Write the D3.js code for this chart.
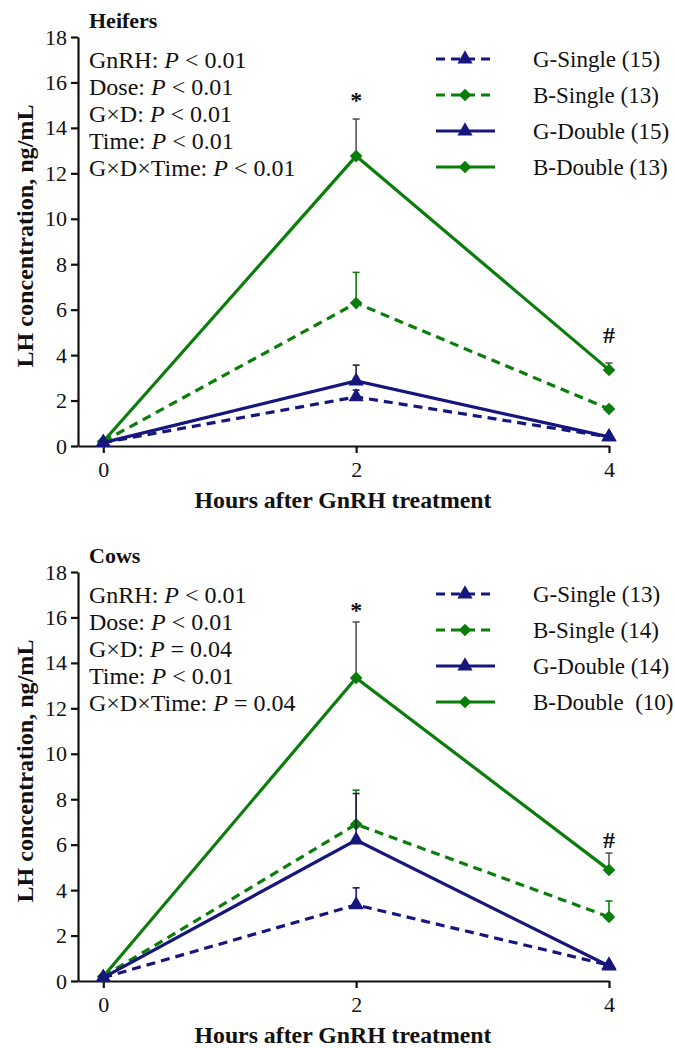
<!DOCTYPE html>
<html>
<head>
<meta charset="utf-8">
<script src="https://cdn.jsdelivr.net/npm/d3@7"></script>
<style>
  body { margin: 0; background: #fff; }
  text { font-family: "Liberation Serif", "Times New Roman", "DejaVu Serif", serif; fill: #111; }
</style>
</head>
<body>
<script>
// ---- data ----
var hours = [0, 2, 4];
var yTicks = [0, 2, 4, 6, 8, 10, 12, 14, 16, 18];
var seriesNames = ["G-Single", "B-Single", "G-Double", "B-Double"];

// Heifers
var heiferN = ["(15)", "(13)", "(15)", "(13)"];
var heiferGSingle = [0.15, 2.16, 0.40];
var heiferGSingleSE = [0.02, 0.30, 0.05];
var heiferBSingle = [0.20, 6.29, 1.63];
var heiferBSingleSE = [0.03, 1.35, 0.12];
var heiferGDouble = [0.15, 2.86, 0.40];
var heiferGDoubleSE = [0.02, 0.70, 0.05];
var heiferBDouble = [0.20, 12.76, 3.35];
var heiferBDoubleSE = [0.03, 1.63, 0.30];
var heiferStats = [["GnRH:", "< 0.01"], ["Dose:", "< 0.01"], ["G\u00d7D:", "< 0.01"],
                   ["Time:", "< 0.01"], ["G\u00d7D\u00d7Time:", "< 0.01"]];
var heiferMarks = [{h: 2, v: 15.45, s: "*"}, {h: 4, v: 4.9, s: "#"}];

// Cows
var cowN = ["(13)", "(14)", "(14)", " (10)"];
var cowGSingle = [0.15, 3.35, 0.70];
var cowGSingleSE = [0.02, 0.75, 0.05];
var cowBSingle = [0.20, 6.90, 2.82];
var cowBSingleSE = [0.03, 1.50, 0.70];
var cowGDouble = [0.15, 6.20, 0.66];
var cowGDoubleSE = [0.02, 2.05, 0.05];
var cowBDouble = [0.20, 13.34, 4.89];
var cowBDoubleSE = [0.03, 2.46, 0.74];
var cowStats = [["GnRH:", "< 0.01"], ["Dose:", "< 0.01"], ["G\u00d7D:", "= 0.04"],
                ["Time:", "< 0.01"], ["G\u00d7D\u00d7Time:", "= 0.04"]];
var cowMarks = [{h: 2, v: 16.55, s: "*"}, {h: 4, v: 6.2, s: "#"}];

var navy = "#16167f", green = "#0b7d0b";
var styles = [
  {color: navy,  dash: "9,6", shape: "tri", err: navy},
  {color: green, dash: "9,6", shape: "dia", err: green},
  {color: navy,  dash: null,  shape: "tri", err: "#222244"},
  {color: green, dash: null,  shape: "dia", err: "#555"}
];

var svgWidth = 675, svgHeight = 1048;
var svg = d3.select("body").append("svg")
    .attr("width", svgWidth)
    .attr("height", svgHeight);

drawPanel(0, "Heifers",
  [[heiferGSingle, heiferGSingleSE], [heiferBSingle, heiferBSingleSE],
   [heiferGDouble, heiferGDoubleSE], [heiferBDouble, heiferBDoubleSE]],
  heiferN, heiferStats, heiferMarks);
drawPanel(535, "Cows",
  [[cowGSingle, cowGSingleSE], [cowBSingle, cowBSingleSE],
   [cowGDouble, cowGDoubleSE], [cowBDouble, cowBDoubleSE]],
  cowN, cowStats, cowMarks);

function marker(sel, shape) {
  if (shape == "tri") {
    sel.attr("d", d3.symbol().type(d3.symbolTriangle).size(100)());
  } else {
    sel.attr("d", d3.symbol().type(d3.symbolSquare).size(80)())
       .attr("transform", function() { return d3.select(this).attr("transform") + " rotate(45)"; });
  }
}

function drawPanel(offset, title, series, nLabels, stats, marks) {
  var g = svg.append("g").attr("transform", "translate(0," + offset + ")");

  var x = d3.scaleLinear().domain([-0.2, 4]).range([78, 609]);
  var y = d3.scaleLinear().domain([0, 18]).range([446, 37]);

  // axes
  var yAxis = g.append("g").attr("transform", "translate(78,0)")
    .call(d3.axisLeft(y).tickValues(yTicks).tickSize(7).tickSizeOuter(0).tickPadding(4)
      .tickFormat(d3.format("d")));
  var xAxis = g.append("g").attr("transform", "translate(0,446)")
    .call(d3.axisBottom(x).tickValues(hours).tickSize(7).tickSizeOuter(0).tickPadding(8)
      .tickFormat(d3.format("d")));
  [yAxis, xAxis].forEach(function(a) {
    a.attr("font-family", null);
    a.selectAll("path,line").attr("stroke", "#111").attr("stroke-width", 2.2);
    a.selectAll("text").attr("font-size", "22px").attr("fill", "#111");
  });

  // axis titles
  g.append("text")
    .attr("x", 343).attr("y", 508)
    .attr("text-anchor", "middle")
    .attr("font-size", "23px").attr("font-weight", "bold")
    .attr("textLength", 297).attr("lengthAdjust", "spacingAndGlyphs")
    .text("Hours after GnRH treatment");
  g.append("text")
    .attr("transform", "translate(33,236) rotate(-90)")
    .attr("text-anchor", "middle")
    .attr("font-size", "23px").attr("font-weight", "bold")
    .attr("textLength", 263).attr("lengthAdjust", "spacingAndGlyphs")
    .text("LH concentration, ng/mL");

  g.append("text")
    .attr("x", 89).attr("y", 28)
    .attr("font-size", "22px").attr("font-weight", "bold")
    .text(title);

  // stats block
  stats.forEach(function(s, i) {
    var t = g.append("text")
      .attr("x", 89).attr("y", 68 + i * 27)
      .attr("font-size", "24px")
      .style("white-space", "pre");
    t.append("tspan").text(s[0] + " ");
    t.append("tspan").attr("font-style", "italic").text("P");
    t.append("tspan").text(" " + s[1]);
  });

  // series, greens first so the navy markers sit on top
  var order = [3, 1, 2, 0];
  var line = d3.line()
    .x(function(d) { return x(d.h); })
    .y(function(d) { return y(d.v); });

  order.forEach(function(k) {
    var st = styles[k];
    var pts = hours.map(function(h, i) { return {h: h, v: series[k][0][i], se: series[k][1][i]}; });

    var eb = g.append("g");
    eb.selectAll("line.v").data(pts).enter().append("line")
      .attr("x1", function(d) { return x(d.h); })
      .attr("x2", function(d) { return x(d.h); })
      .attr("y1", function(d) { return y(d.v); })
      .attr("y2", function(d) { return y(d.v + d.se); })
      .attr("stroke", st.err).attr("stroke-width", 1.6);
    eb.selectAll("line.c").data(pts).enter().append("line")
      .attr("x1", function(d) { return x(d.h) - 3.5; })
      .attr("x2", function(d) { return x(d.h) + 3.5; })
      .attr("y1", function(d) { return y(d.v + d.se); })
      .attr("y2", function(d) { return y(d.v + d.se); })
      .attr("stroke", st.err).attr("stroke-width", 1.6);

    g.append("path").datum(pts)
      .attr("d", line)
      .attr("fill", "none")
      .attr("stroke", st.color)
      .attr("stroke-width", 3.2)
      .attr("stroke-dasharray", st.dash);

    g.selectAll(null).data(pts).enter().append("path")
      .attr("transform", function(d) { return "translate(" + x(d.h) + "," + y(d.v) + ")"; })
      .attr("fill", st.color)
      .call(marker, st.shape);
  });

  // significance marks
  g.selectAll(null).data(marks).enter().append("text")
    .attr("x", function(d) { return x(d.h); })
    .attr("y", function(d) { return y(d.v); })
    .attr("dy", function(d) { return d.s == "*" ? 13 : 8; })
    .attr("text-anchor", "middle")
    .attr("font-size", "24px").attr("font-weight", "bold")
    .text(function(d) { return d.s; });

  // legend
  var leg = g.selectAll("g.leg").data(seriesNames).enter().append("g")
    .attr("transform", function(d, i) { return "translate(0," + (59 + i * 36) + ")"; });
  leg.append("line")
    .attr("x1", 436).attr("x2", 495)
    .attr("stroke", function(d, i) { return styles[i].color; })
    .attr("stroke-width", 3.2)
    .attr("stroke-dasharray", function(d, i) { return styles[i].dash; });
  leg.append("path")
    .attr("transform", "translate(465,0)")
    .attr("fill", function(d, i) { return styles[i].color; })
    .each(function(d, i) { d3.select(this).call(marker, styles[i].shape); });
  leg.append("text")
    .attr("x", 533).attr("y", 8)
    .attr("font-size", "23px")
    .style("white-space", "pre")
    .text(function(d, i) { return d + " " + nLabels[i]; });
}
</script>
</body>
</html>
